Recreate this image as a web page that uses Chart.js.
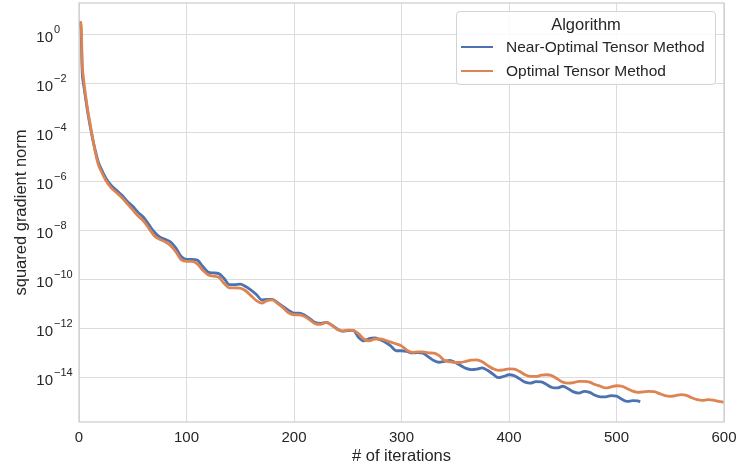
<!DOCTYPE html>
<html>
<head>
<meta charset="utf-8">
<script src="https://cdn.jsdelivr.net/npm/chart.js@4.4.0/dist/chart.umd.min.js"></script>
<style>
  body { margin: 0; background: #fff; }
  #wrap { position: relative; width: 737px; height: 470px; }
  #legend {
    position: absolute; left: 456px; top: 11px; width: 260px; height: 74px;
    box-sizing: border-box; border: 1px solid #d4d4d4; border-radius: 4px;
    background: rgba(255,255,255,0.85);
    font-family: 'Liberation Sans', Arial, sans-serif; color: #262626;
  }
  #legend .title { position: absolute; left: 0; right: 0; top: 3px; text-align: center; font-size: 16.5px; }
  #legend .item { position: absolute; left: 4px; height: 20px; display: flex; align-items: center; font-size: 15.5px; }
  #legend .swatch { width: 32px; height: 2px; margin-right: 13px; }
</style>
</head>
<body>
<div id="wrap">
  <canvas id="chart" width="737" height="470"></canvas>
  <div id="legend"></div>
</div>
<script>
const iterations = [1, 2, 3, 4, 5, 7, 9, 12, 15, 18, 21,
  25, 30, 35, 40, 45, 50, 55, 60, 65, 70, 75, 80, 85, 90, 95, 100,
  105, 110, 115, 120, 125, 130, 135, 140, 145, 150, 155, 160, 165, 170, 175, 180,
  185, 190, 195, 200, 205, 210, 215, 220, 225, 230, 235, 240, 245, 250, 255, 260,
  265, 270, 275, 280, 285, 290, 295, 300, 305, 310, 315, 320, 325, 330, 335, 340,
  345, 350, 355, 360, 365, 370, 375, 380, 385, 390, 395, 400, 405, 410, 415, 420,
  425, 430, 435, 440, 445, 450, 455, 460, 465, 470, 475, 480, 485, 490, 495, 500,
  505, 510, 515, 520, 522, 525, 530, 535, 540, 545, 550, 555, 560, 565, 570, 575,
  580, 585, 590, 595, 600];

// log10 of squared gradient norm
const nearOptimalLog10 = [0.55, 0.1, -1.55, -1.95, -2.25, -2.85, -3.4, -4.1, -4.7, -5.2, -5.5,
  -5.85, -6.15, -6.35, -6.55, -6.8, -7.0, -7.25, -7.45, -7.75, -8.05, -8.25, -8.35, -8.45, -8.7, -9.05, -9.17,
  -9.17, -9.2, -9.45, -9.68, -9.72, -9.75, -9.95, -10.2, -10.2, -10.18, -10.28, -10.42, -10.6, -10.82, -10.8, -10.8,
  -10.95, -11.1, -11.25, -11.36, -11.36, -11.45, -11.6, -11.75, -11.78, -11.74, -11.85, -12.0, -12.1, -12.08, -12.07, -12.35,
  -12.5, -12.4, -12.38, -12.45, -12.55, -12.7, -12.9, -12.9, -12.93, -12.99, -12.98, -13.0, -13.15, -13.3, -13.37, -13.33,
  -13.29, -13.38, -13.5, -13.62, -13.67, -13.65, -13.6, -13.7, -13.85, -14.0, -13.95, -13.88, -13.92, -14.05, -14.18, -14.22,
  -14.16, -14.17, -14.28, -14.4, -14.42, -14.35, -14.45, -14.58, -14.63, -14.56, -14.6, -14.72, -14.78, -14.78, -14.73, -14.75,
  -14.88, -14.97, -14.94, -14.95, -14.99];

const optimalLog10 = [0.55, 0.4, -1.2, -1.7, -2.1, -2.75, -3.3, -4.05, -4.75, -5.3, -5.6,
  -5.95, -6.25, -6.45, -6.65, -6.9, -7.15, -7.4, -7.6, -7.9, -8.2, -8.35, -8.45, -8.6, -8.85, -9.18, -9.25,
  -9.25, -9.35, -9.6, -9.8, -9.85, -9.9, -10.15, -10.33, -10.33, -10.34, -10.45, -10.65, -10.85, -10.95, -10.85, -10.82,
  -10.98, -11.15, -11.35, -11.43, -11.43, -11.5, -11.65, -11.8, -11.82, -11.74, -11.85, -12.02, -12.1, -12.06, -12.07, -12.2,
  -12.42, -12.5, -12.42, -12.42, -12.47, -12.55, -12.62, -12.7, -12.88, -12.97, -12.95, -12.95, -12.99, -13.0, -13.1, -13.3,
  -13.35, -13.38, -13.38, -13.33, -13.28, -13.27, -13.35, -13.5, -13.63, -13.7, -13.68, -13.64, -13.65, -13.75, -13.88, -13.95,
  -13.95, -13.9, -13.88, -13.92, -14.05, -14.18, -14.22, -14.2, -14.15, -14.15, -14.18, -14.28, -14.35, -14.42, -14.38, -14.33,
  -14.35, -14.45, -14.55, -14.6, -14.59, -14.58, -14.56, -14.57, -14.65, -14.73, -14.76, -14.73, -14.69, -14.72, -14.82, -14.9,
  -14.93, -14.9, -14.92, -14.97, -15.0];

const xTicks = [0, 100, 200, 300, 400, 500, 600];
const yTickExponents = [0, -2, -4, -6, -8, -10, -12, -14];
const seriesNames = ['Near-Optimal Tensor Method', 'Optimal Tensor Method'];
const seriesColors = ['#4c72b0', '#dd8452'];

const FONT = "'Liberation Sans', Arial, sans-serif";
const TEXT = '#262626';

function toPoints(logs) {
  return logs.map((v, i) => ({ x: iterations[i], y: Math.pow(10, v) }));
}

// frame round the plot and the 10^k tick labels
const axesExtras = {
  id: 'axesExtras',
  afterDatasetsDraw(chart) {
    const { ctx, chartArea: a } = chart;
    ctx.save();
    ctx.strokeStyle = '#cccccc';
    ctx.lineWidth = 1.2;
    ctx.strokeRect(a.left, a.top, a.right - a.left, a.bottom - a.top);
    ctx.restore();
  },
  afterDraw(chart) {
    const ctx = chart.ctx;
    const y = chart.scales.y;
    ctx.save();
    ctx.fillStyle = TEXT;
    ctx.textBaseline = 'middle';
    yTickExponents.forEach(e => {
      const py = y.getPixelForValue(Math.pow(10, e));
      ctx.font = '15px ' + FONT;
      ctx.textAlign = 'right';
      ctx.fillText('10', 53, py + 3);
      ctx.font = '11px ' + FONT;
      ctx.textAlign = 'left';
      ctx.fillText(e === 0 ? '0' : '\u2212' + Math.abs(e), 54, py - 5);
    });
    ctx.restore();
  }
};

Chart.defaults.font.family = FONT;
Chart.defaults.color = TEXT;

const chart = new Chart(document.getElementById('chart'), {
  type: 'line',
  data: {
    datasets: [
      {
        label: seriesNames[0],
        data: toPoints(nearOptimalLog10),
        borderColor: seriesColors[0],
        borderWidth: 2.8,
        pointRadius: 0,
        cubicInterpolationMode: 'monotone',
        order: 1
      },
      {
        label: seriesNames[1],
        data: toPoints(optimalLog10),
        borderColor: seriesColors[1],
        borderWidth: 2.8,
        pointRadius: 0,
        cubicInterpolationMode: 'monotone',
        order: 0
      }
    ]
  },
  options: {
    responsive: false,
    animation: false,
    devicePixelRatio: 1,
    layout: { padding: { top: 3, right: 13, left: 0, bottom: 0 } },
    plugins: { legend: { display: false }, tooltip: { enabled: false } },
    scales: {
      x: {
        type: 'linear',
        min: 0,
        max: 600,
        afterBuildTicks: s => { s.ticks = xTicks.map(v => ({ value: v })); },
        ticks: { font: { size: 15 }, padding: 7, color: TEXT },
        grid: { color: '#dcdcdc', lineWidth: 1, drawTicks: false },
        border: { display: false },
        title: { display: true, text: '# of iterations', font: { size: 16.5 }, color: TEXT, padding: { top: 0, bottom: 4 } },
        afterFit: s => { s.height = 48; s.paddingLeft = 0; s.paddingRight = 0; }
      },
      y: {
        type: 'logarithmic',
        min: 1.55e-16,
        max: 20,
        afterBuildTicks: s => { s.ticks = yTickExponents.map(e => ({ value: Math.pow(10, e) })); },
        ticks: { display: false },
        grid: { color: '#dcdcdc', lineWidth: 1, drawTicks: false },
        border: { display: false },
        title: { display: true, text: 'squared gradient norm', font: { size: 16.5 }, color: TEXT, padding: { top: 12, bottom: 0 } },
        afterFit: s => { s.width = 79; s.paddingTop = 0; s.paddingBottom = 0; }
      }
    }
  },
  plugins: [axesExtras]
});

// legend built from the chart's datasets
const legend = document.getElementById('legend');
legend.innerHTML = '<div class="title">Algorithm</div>';
chart.data.datasets.forEach((ds, i) => {
  const item = document.createElement('div');
  item.className = 'item';
  item.style.top = (25 + i * 23.5) + 'px';
  item.innerHTML = `<span class="swatch" style="background:${ds.borderColor}"></span><span>${ds.label}</span>`;
  legend.appendChild(item);
});
</script>
</body>
</html>
